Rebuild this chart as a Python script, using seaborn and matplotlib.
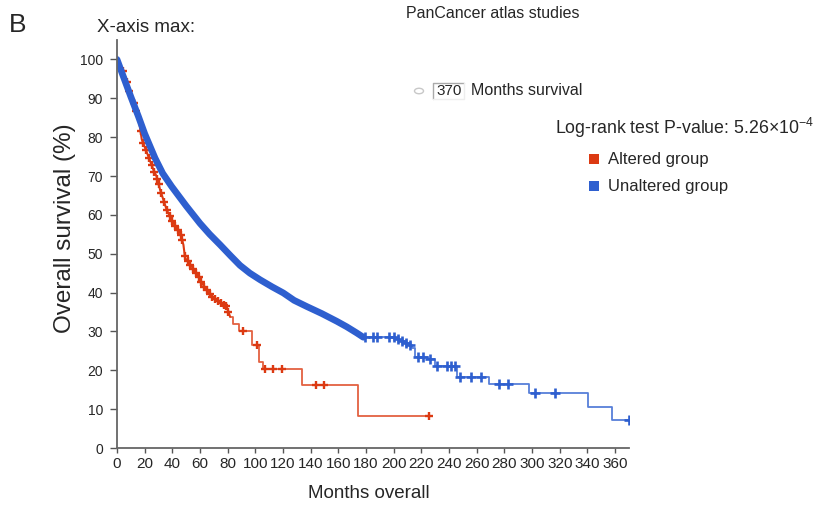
import numpy as np
import pandas as pd
import matplotlib
matplotlib.use("Agg")
import matplotlib.pyplot as plt
import seaborn as sns
from matplotlib.patches import Rectangle, Circle
from matplotlib.lines import Line2D

# ---------------- data ----------------
altered_time = [0, 5.8, 10, 15.4, 17.9, 22.6, 26.3, 28.6, 31.1, 35.9, 40.7, 45.6, 48, 49.2,
                54, 58.8, 63.6, 68.4, 74.5, 79.3, 81.7, 84, 88, 97.4, 102.9, 105.8, 133.5,
                173.8, 225.6]
altered_surv = [100, 95.7, 90.8, 85.4, 79.4, 75.1, 71.6, 69.9, 66.5, 61.3, 57.9, 55.3, 52.3, 48.9,
                46.7, 44.1, 41.2, 39.0, 37.3, 36.4, 33.8, 32.0, 30.0, 26.5, 22.2, 20.3, 16.2,
                8.2, 8.2]
altered_censor = [4, 7, 9, 12, 14, 17, 19, 21, 23, 25, 27, 29, 30, 32, 34, 36, 38, 40, 42, 44,
                  46, 47, 49, 51, 53, 55, 57, 59, 61, 63, 65, 67, 69, 71, 73, 75, 77, 79, 80.5,
                  91.3, 101, 107, 112.6, 119.1, 143.9, 149.7, 225.6]

unaltered_time = [0, 5, 10, 15.4, 20, 27.5, 33, 39.5, 50, 60, 67, 74.5, 82, 88.9, 96, 103.4,
                  112, 120.2, 128, 137.2, 148, 158.9, 166, 173.3, 178, 201, 204, 208, 211, 213,
                  215.5, 225, 230, 245.6, 268.5, 297.9, 340.3, 357.7, 369.7]
unaltered_surv = [100, 95.2, 90.4, 85.4, 80.9, 74.6, 70.7, 67.3, 62.3, 57.8, 55.0, 52.3, 49.5,
                  47.0, 45.0, 43.3, 41.5, 39.9, 38.0, 36.4, 34.6, 32.6, 31.2, 29.6, 28.5, 28.0,
                  27.6, 27.0, 26.4, 25.8, 23.4, 22.8, 21.0, 18.2, 16.5, 14.2, 10.6, 7.1, 7.1]
unaltered_censor = [179, 185, 188, 196.5, 200, 203, 206, 209, 212, 217.8, 221, 226.3, 231.4,
                    238.4, 241.2, 244.4, 248, 255.7, 263.1, 275.7, 282.2, 302, 316.5, 369.7]

group_names = ["Altered group", "Unaltered group"]
x_ticks = list(range(0, 361, 20))
y_ticks = list(range(0, 101, 10))

# ---------------- style ----------------
sns.set_theme(style="white")
plt.rcParams["font.family"] = ["Liberation Sans", "DejaVu Sans"]
plt.rcParams["mathtext.fontset"] = "custom"
plt.rcParams["mathtext.rm"] = "Liberation Sans"
plt.rcParams["mathtext.it"] = "Liberation Sans"

RED = "#dc3a12"
BLUE = "#2e5fcf"
colors = {group_names[0]: RED, group_names[1]: BLUE}

W, H = 829, 505
fig = plt.figure(figsize=(W / 100, H / 100), dpi=100)
ax = fig.add_axes([117 / W, 1 - 448 / H, (629 - 117) / W, (448 - 40) / H])

df = pd.concat([
    pd.DataFrame({"group": group_names[0], "time": altered_time, "surv": altered_surv}),
    pd.DataFrame({"group": group_names[1], "time": unaltered_time, "surv": unaltered_surv}),
], ignore_index=True)

dense_cut = {group_names[0]: 81.7, group_names[1]: 178}
dense_lw = {group_names[0]: 1.5, group_names[1]: 4.8}
mark_size = {group_names[0]: 6, group_names[1]: 6.5}
mark_width = {group_names[0]: 1.7, group_names[1]: 1.9}
censors = {group_names[0]: altered_censor, group_names[1]: unaltered_censor}


def surv_at(t, times, survs, cut):
    times = np.asarray(times)
    survs = np.asarray(survs)
    if t <= cut:
        return float(np.interp(t, times, survs))
    idx = np.searchsorted(times, t, side="right") - 1
    return float(survs[idx])


for g in group_names:
    sub = df[df.group == g]
    cut = dense_cut[g]
    dense = sub[sub.time <= cut]
    sparse = sub[sub.time >= cut]
    sns.lineplot(data=sparse, x="time", y="surv", ax=ax, color=colors[g], lw=1.3,
                 drawstyle="steps-post", estimator=None, sort=False, alpha=0.8, legend=False)
    sns.lineplot(data=dense, x="time", y="surv", ax=ax, color=colors[g], lw=dense_lw[g],
                 estimator=None, sort=False, legend=False, solid_capstyle="round")
    ct = censors[g]
    cy = [surv_at(t, sub.time, sub.surv, cut) for t in ct]
    ax.plot(ct, cy, ls="none", marker="+", ms=mark_size[g], mew=mark_width[g], color=colors[g])

ax.set_xlim(0, 370)
ax.set_ylim(0, 105)
ax.set_xticks(x_ticks)
ax.set_yticks(y_ticks)
ax.set_xticklabels([str(v) for v in x_ticks], fontsize=11)
ax.set_yticklabels([str(v) for v in y_ticks], fontsize=10)
ax.tick_params(axis="x", direction="out", length=3.5, width=1, color="#555555", pad=3,
               bottom=True)
ax.tick_params(axis="y", direction="out", length=5, width=1, color="#555555", pad=5, left=True)
for s in ["top", "right"]:
    ax.spines[s].set_visible(False)
for s in ["left", "bottom"]:
    ax.spines[s].set_color("#666666")
    ax.spines[s].set_linewidth(1.3)
ax.set_xlabel("Months overall", fontsize=13.5)
ax.set_ylabel("Overall survival (%)", fontsize=17.5)
ax.xaxis.set_label_coords((369 - 117) / 512, -(493 - 448) / 408)
ax.yaxis.set_label_coords((65 - 117) / 512, (448 - 228) / 408)
ax.xaxis.label.set_va("center")
ax.yaxis.label.set_va("center")


def fx(px):
    return px / W


def fy(py):
    return 1 - py / H


fig.text(fx(9), fy(25), "B", fontsize=19, va="center", ha="left")
fig.text(fx(97), fy(28), "X-axis max:", fontsize=13.5, va="center", ha="left")
fig.text(fx(493), fy(13), "PanCancer atlas studies", fontsize=11.5, va="center", ha="center")

fig.patches.append(Circle((fx(419), fy(91)), 4.5 / W, transform=fig.transFigure,
                          facecolor="white", edgecolor="#c8c8c8", lw=1))
fig.add_artist(Line2D([fx(433), fx(433), fx(464)], [fy(99), fy(83), fy(83)],
                      transform=fig.transFigure, color="#aaaaaa", lw=1))
fig.add_artist(Line2D([fx(433), fx(464), fx(464)], [fy(99), fy(99), fy(83)],
                      transform=fig.transFigure, color="#eeeeee", lw=1))
fig.text(fx(436), fy(91), "370", fontsize=11, va="center", ha="left")
fig.text(fx(471), fy(91), "Months survival", fontsize=11.5, va="center", ha="left")

fig.text(fx(555), fy(128), "Log-rank test P-value: 5.26×10$^{-4}$", fontsize=12.8,
         va="center", ha="left")
for i, g in enumerate(group_names):
    yc = [159, 186][i]
    fig.patches.append(Rectangle((fx(589), fy(yc + 5)), 10 / W, 10 / H,
                                 transform=fig.transFigure, facecolor=colors[g],
                                 edgecolor="none"))
    fig.text(fx(608), fy(yc), g, fontsize=12, va="center", ha="left")

fig.savefig("out.png", dpi=100)
